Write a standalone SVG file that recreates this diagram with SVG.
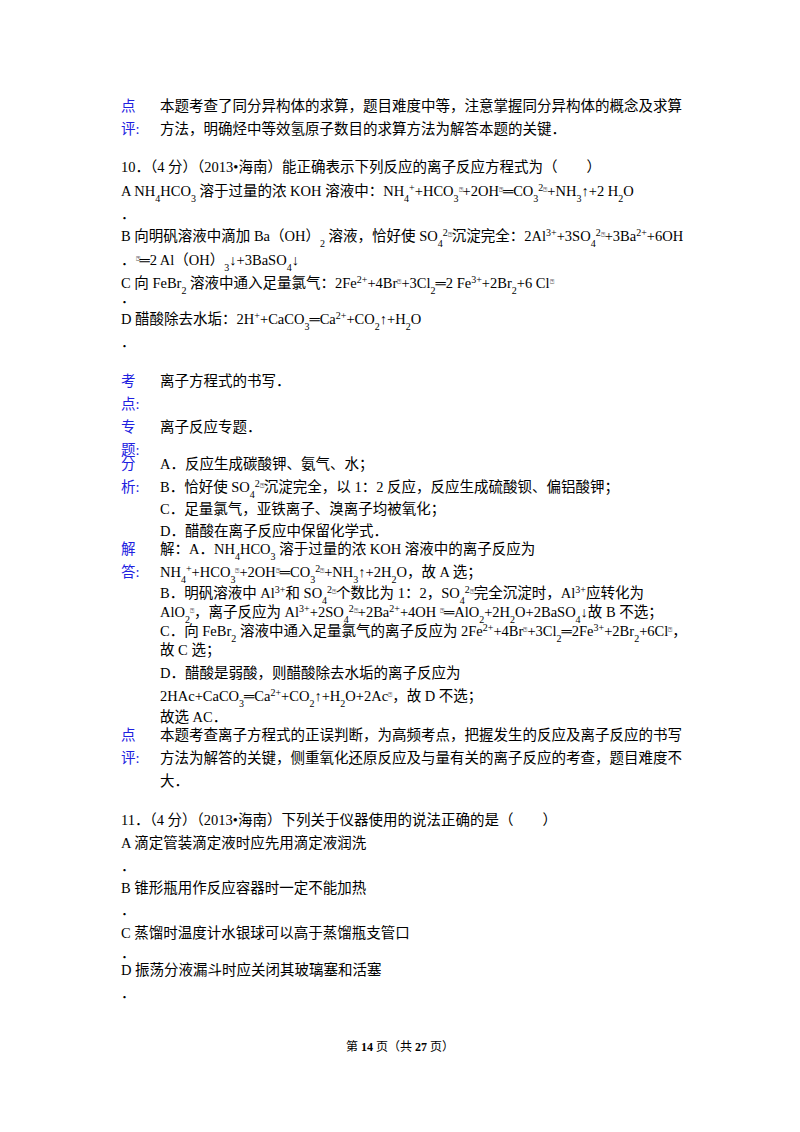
<svg xmlns="http://www.w3.org/2000/svg" width="800" height="1132" viewBox="0 0 800 1132">
<style>
text{font-family:"Liberation Serif","Noto Sans CJK SC",serif;font-size:14.5px;fill:#000;white-space:pre}
.l{fill:#2020e0}
.b{baseline-shift:sub;font-size:10px}
.p{baseline-shift:super;font-size:10px}
.q{font-family:"DejaVu Sans",sans-serif;font-size:7px;baseline-shift:super}
.f{font-size:12px}
</style>
<rect width="800" height="1132" fill="#fff"/>
<g id="c1">
<text x="121" y="111" class="l">点</text><text x="121" y="134" class="l">评:</text>
<text x="160" y="111">本题考查了同分异构体的求算，题目难度中等，注意掌握同分异构体的概念及求算</text>
<text x="160" y="134">方法，明确烃中等效氢原子数目的求算方法为解答本题的关键．</text>
</g>
<g id="q10">
<text x="121" y="172">10．（4 分）（2013•海南）能正确表示下列反应的离子反应方程式为（        ）</text>
<text x="121" y="196">A NH<tspan class="b">4</tspan>HCO<tspan class="b">3</tspan> 溶于过量的浓 KOH 溶液中：NH<tspan class="b">4</tspan><tspan class="p">+</tspan>+HCO<tspan class="b">3</tspan><tspan class="q">⍰</tspan>+2OH<tspan class="q">⍰</tspan>═CO<tspan class="b">3</tspan><tspan class="p">2</tspan><tspan class="q">⍰</tspan>+NH<tspan class="b">3</tspan>↑+2 H<tspan class="b">2</tspan>O</text>
<text x="121" y="219">．</text>
<text x="121" y="241">B 向明矾溶液中滴加 Ba（OH）<tspan class="b">2</tspan> 溶液，恰好使 SO<tspan class="b">4</tspan><tspan class="p">2</tspan><tspan class="q">⍰</tspan>沉淀完全：2Al<tspan class="p">3+</tspan>+3SO<tspan class="b">4</tspan><tspan class="p">2</tspan><tspan class="q">⍰</tspan>+3Ba<tspan class="p">2+</tspan>+6OH</text>
<text x="121" y="265">．<tspan class="q">⍰</tspan>═2 Al（OH）<tspan class="b">3</tspan>↓+3BaSO<tspan class="b">4</tspan>↓</text>
<text x="121" y="288">C 向 FeBr<tspan class="b">2</tspan> 溶液中通入足量氯气：2Fe<tspan class="p">2+</tspan>+4Br<tspan class="q">⍰</tspan>+3Cl<tspan class="b">2</tspan>═2 Fe<tspan class="p">3+</tspan>+2Br<tspan class="b">2</tspan>+6 Cl<tspan class="q">⍰</tspan></text>
<text x="121" y="303">．</text>
<text x="121" y="324">D 醋酸除去水垢：2H<tspan class="p">+</tspan>+CaCO<tspan class="b">3</tspan>═Ca<tspan class="p">2+</tspan>+CO<tspan class="b">2</tspan>↑+H<tspan class="b">2</tspan>O</text>
<text x="121" y="347">．</text>
</g>
<g id="kd">
<text x="121" y="386" class="l">考</text><text x="121" y="409" class="l">点:</text>
<text x="160" y="386">离子方程式的书写．</text>
<text x="121" y="432" class="l">专</text><text x="121" y="455" class="l">题:</text>
<text x="160" y="432">离子反应专题．</text>
</g>
<g id="fx">
<text x="121" y="469" class="l">分</text><text x="121" y="492" class="l">析:</text>
<text x="160" y="469">A．反应生成碳酸钾、氨气、水；</text>
<text x="160" y="492">B．恰好使 SO<tspan class="b">4</tspan><tspan class="p">2</tspan><tspan class="q">⍰</tspan>沉淀完全，以 1：2 反应，反应生成硫酸钡、偏铝酸钾；</text>
<text x="160" y="514">C．足量氯气，亚铁离子、溴离子均被氧化；</text>
<text x="160" y="536">D．醋酸在离子反应中保留化学式．</text>
</g>
<g id="jd">
<text x="121" y="554" class="l">解</text><text x="121" y="577" class="l">答:</text>
<text x="160" y="554">解：A．NH<tspan class="b">4</tspan>HCO<tspan class="b">3</tspan> 溶于过量的浓 KOH 溶液中的离子反应为</text>
<text x="160" y="577">NH<tspan class="b">4</tspan><tspan class="p">+</tspan>+HCO<tspan class="b">3</tspan><tspan class="q">⍰</tspan>+2OH<tspan class="q">⍰</tspan>═CO<tspan class="b">3</tspan><tspan class="p">2</tspan><tspan class="q">⍰</tspan>+NH<tspan class="b">3</tspan>↑+2H<tspan class="b">2</tspan>O，故 A 选；</text>
<text x="160" y="598">B．明矾溶液中 Al<tspan class="p">3+</tspan>和 SO<tspan class="b">4</tspan><tspan class="p">2</tspan><tspan class="q">⍰</tspan>个数比为 1：2，SO<tspan class="b">4</tspan><tspan class="p">2</tspan><tspan class="q">⍰</tspan>完全沉淀时，Al<tspan class="p">3+</tspan>应转化为</text>
<text x="160" y="617">AlO<tspan class="b">2</tspan><tspan class="q">⍰</tspan>，离子反应为 Al<tspan class="p">3+</tspan>+2SO<tspan class="b">4</tspan><tspan class="p">2</tspan><tspan class="q">⍰</tspan>+2Ba<tspan class="p">2+</tspan>+4OH <tspan class="q">⍰</tspan>═AlO<tspan class="b">2</tspan>+2H<tspan class="b">2</tspan>O+2BaSO<tspan class="b">4</tspan>↓故 B 不选；</text>
<text x="160" y="636">C．向 FeBr<tspan class="b">2</tspan> 溶液中通入足量氯气的离子反应为 2Fe<tspan class="p">2+</tspan>+4Br<tspan class="q">⍰</tspan>+3Cl<tspan class="b">2</tspan>═2Fe<tspan class="p">3+</tspan>+2Br<tspan class="b">2</tspan>+6Cl<tspan class="q">⍰</tspan>，</text>
<text x="160" y="655">故 C 选；</text>
<text x="160" y="678">D．醋酸是弱酸，则醋酸除去水垢的离子反应为</text>
<text x="160" y="701">2HAc+CaCO<tspan class="b">3</tspan>═Ca<tspan class="p">2+</tspan>+CO<tspan class="b">2</tspan>↑+H<tspan class="b">2</tspan>O+2Ac<tspan class="q">⍰</tspan>，故 D 不选；</text>
<text x="160" y="722">故选 AC．</text>
</g>
<g id="dp">
<text x="121" y="740" class="l">点</text><text x="121" y="763" class="l">评:</text>
<text x="160" y="740">本题考查离子方程式的正误判断，为高频考点，把握发生的反应及离子反应的书写</text>
<text x="160" y="763">方法为解答的关键，侧重氧化还原反应及与量有关的离子反应的考查，题目难度不</text>
<text x="160" y="786">大．</text>
</g>
<g id="q11">
<text x="121" y="825">11．（4 分）（2013•海南）下列关于仪器使用的说法正确的是（        ）</text>
<text x="121" y="848">A 滴定管装滴定液时应先用滴定液润洗</text>
<text x="121" y="871">．</text>
<text x="121" y="893">B 锥形瓶用作反应容器时一定不能加热</text>
<text x="121" y="915">．</text>
<text x="121" y="938">C 蒸馏时温度计水银球可以高于蒸馏瓶支管口</text>
<text x="121" y="958">．</text>
<text x="121" y="975">D 振荡分液漏斗时应关闭其玻璃塞和活塞</text>
<text x="121" y="998">．</text>
</g>
<text x="400" y="1051" class="f" text-anchor="middle">第 <tspan font-weight="bold">14</tspan> 页（共 <tspan font-weight="bold">27</tspan> 页）</text>
</svg>
